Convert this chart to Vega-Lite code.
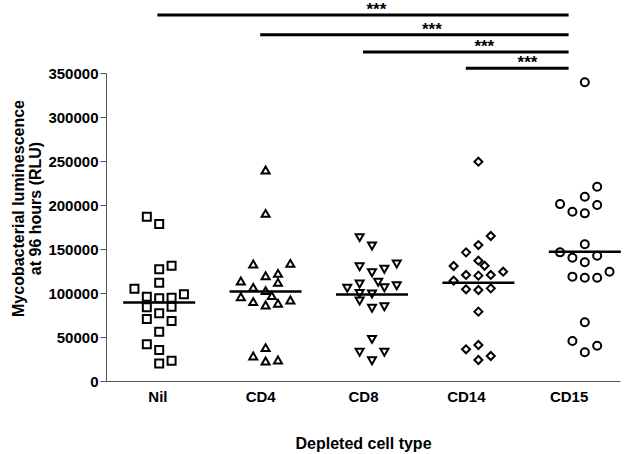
{
  "$schema": "https://vega.github.io/schema/vega-lite/v6.json",
  "width": 514,
  "height": 308,
  "autosize": {"type": "none"},
  "padding": {"left": 106, "top": 73, "right": 21, "bottom": 73},
  "background": "white",
  "config": {"view": {"stroke": null}, "font": "Liberation Sans"},
  "datasets": {
    "points": [
      {"group": "Nil", "col": -1, "value": 186700},
      {"group": "Nil", "col": 0, "value": 178400},
      {"group": "Nil", "col": 1, "value": 131000},
      {"group": "Nil", "col": 0, "value": 127000},
      {"group": "Nil", "col": 0, "value": 111700},
      {"group": "Nil", "col": -2, "value": 104900},
      {"group": "Nil", "col": 2, "value": 98500},
      {"group": "Nil", "col": -1, "value": 95800},
      {"group": "Nil", "col": 0, "value": 94000},
      {"group": "Nil", "col": 1, "value": 94700},
      {"group": "Nil", "col": -1, "value": 83700},
      {"group": "Nil", "col": 1, "value": 84400},
      {"group": "Nil", "col": 0, "value": 76900},
      {"group": "Nil", "col": -1, "value": 70500},
      {"group": "Nil", "col": 1, "value": 68200},
      {"group": "Nil", "col": 0, "value": 56000},
      {"group": "Nil", "col": -1, "value": 41700},
      {"group": "Nil", "col": 0, "value": 35200},
      {"group": "Nil", "col": 1, "value": 23000},
      {"group": "Nil", "col": 0, "value": 20000},
      {"group": "CD4", "col": 0, "value": 239800},
      {"group": "CD4", "col": 0, "value": 190500},
      {"group": "CD4", "col": -1, "value": 133000},
      {"group": "CD4", "col": 2, "value": 133700},
      {"group": "CD4", "col": 0, "value": 119700},
      {"group": "CD4", "col": 1, "value": 122300},
      {"group": "CD4", "col": 1, "value": 112100},
      {"group": "CD4", "col": -2, "value": 113600},
      {"group": "CD4", "col": -1, "value": 106400},
      {"group": "CD4", "col": 0, "value": 102700},
      {"group": "CD4", "col": -2, "value": 95800},
      {"group": "CD4", "col": 0.5, "value": 97000},
      {"group": "CD4", "col": -1, "value": 90200},
      {"group": "CD4", "col": 0, "value": 86400},
      {"group": "CD4", "col": 1, "value": 88300},
      {"group": "CD4", "col": 2, "value": 92000},
      {"group": "CD4", "col": 0, "value": 37900},
      {"group": "CD4", "col": -1, "value": 28400},
      {"group": "CD4", "col": 0, "value": 22700},
      {"group": "CD4", "col": 1, "value": 23900},
      {"group": "CD8", "col": -1, "value": 162900},
      {"group": "CD8", "col": 0, "value": 153400},
      {"group": "CD8", "col": -1, "value": 129900},
      {"group": "CD8", "col": 0, "value": 123100},
      {"group": "CD8", "col": 1, "value": 126900},
      {"group": "CD8", "col": 2, "value": 133000},
      {"group": "CD8", "col": -2, "value": 105300},
      {"group": "CD8", "col": -1, "value": 110200},
      {"group": "CD8", "col": 0.5, "value": 112200},
      {"group": "CD8", "col": 1, "value": 106000},
      {"group": "CD8", "col": 2, "value": 108300},
      {"group": "CD8", "col": -1, "value": 99600},
      {"group": "CD8", "col": 0, "value": 98900},
      {"group": "CD8", "col": -1, "value": 90900},
      {"group": "CD8", "col": 0, "value": 82600},
      {"group": "CD8", "col": 1, "value": 84400},
      {"group": "CD8", "col": 0, "value": 47300},
      {"group": "CD8", "col": -1, "value": 32600},
      {"group": "CD8", "col": 0, "value": 23100},
      {"group": "CD8", "col": 1, "value": 32600},
      {"group": "CD14", "col": 0, "value": 249200},
      {"group": "CD14", "col": 1, "value": 164800},
      {"group": "CD14", "col": 0, "value": 154500},
      {"group": "CD14", "col": -1, "value": 146200},
      {"group": "CD14", "col": 0, "value": 136700},
      {"group": "CD14", "col": 0.5, "value": 131000},
      {"group": "CD14", "col": -2, "value": 130700},
      {"group": "CD14", "col": -1, "value": 120500},
      {"group": "CD14", "col": 0, "value": 119700},
      {"group": "CD14", "col": 1, "value": 120500},
      {"group": "CD14", "col": 2, "value": 124200},
      {"group": "CD14", "col": -2, "value": 114000},
      {"group": "CD14", "col": -1, "value": 104200},
      {"group": "CD14", "col": 0, "value": 103400},
      {"group": "CD14", "col": 1, "value": 105300},
      {"group": "CD14", "col": 0, "value": 78800},
      {"group": "CD14", "col": -1, "value": 36000},
      {"group": "CD14", "col": 0, "value": 40900},
      {"group": "CD14", "col": 0, "value": 23900},
      {"group": "CD14", "col": 1, "value": 28400},
      {"group": "CD15", "col": 0, "value": 339400},
      {"group": "CD15", "col": 1, "value": 220800},
      {"group": "CD15", "col": 0, "value": 209400},
      {"group": "CD15", "col": 1, "value": 200000},
      {"group": "CD15", "col": -2, "value": 201000},
      {"group": "CD15", "col": -1, "value": 192400},
      {"group": "CD15", "col": 0, "value": 190500},
      {"group": "CD15", "col": 0, "value": 155300},
      {"group": "CD15", "col": -2, "value": 146200},
      {"group": "CD15", "col": -1, "value": 140100},
      {"group": "CD15", "col": 1, "value": 142400},
      {"group": "CD15", "col": 0, "value": 134900},
      {"group": "CD15", "col": -1, "value": 118600},
      {"group": "CD15", "col": 0, "value": 117400},
      {"group": "CD15", "col": 1, "value": 117400},
      {"group": "CD15", "col": 2, "value": 124200},
      {"group": "CD15", "col": 0, "value": 66700},
      {"group": "CD15", "col": -1, "value": 45500},
      {"group": "CD15", "col": 0, "value": 32600},
      {"group": "CD15", "col": 1, "value": 40100}
    ],
    "sig": [
      {"from": 1, "to": 5, "y": 416000, "label": "***", "tx": 3.13},
      {"from": 2, "to": 5, "y": 393500, "label": "***", "tx": 3.67},
      {"from": 3, "to": 5, "y": 374000, "label": "***", "tx": 4.18},
      {"from": 4, "to": 5, "y": 355500, "label": "***", "tx": 4.6}
    ]
  },
  "layer": [
    {
      "data": {"name": "points"},
      "mark": {"type": "point", "filled": false, "color": "black", "strokeWidth": 2, "size": 64, "opacity": 1},
      "encoding": {
        "x": {"field": "group", "type": "nominal", "sort": ["Nil", "CD4", "CD8", "CD14", "CD15"],
              "scale": {"type": "band", "range": [0, 532], "paddingInner": 0, "paddingOuter": 0}, "axis": null},
        "xOffset": {"field": "col", "type": "quantitative", "scale": {"domain": [-4.3, 4.3]}},
        "y": {"field": "value", "type": "quantitative", "scale": {"domain": [0, 350000], "nice": false},
              "axis": {"values": [0, 50000, 100000, 150000, 200000, 250000, 300000, 350000], "format": "d",
                       "title": ["Mycobacterial luminescence", "at 96 hours (RLU)"], "grid": false,
                       "tickSize": 6, "tickColor": "#555", "domainColor": "#555",
                       "labelFont": "Liberation Sans", "labelFontWeight": "bold", "labelFontSize": 15, "labelColor": "black", "labelPadding": 2,
                       "titleFont": "Liberation Sans", "titleFontSize": 16, "titleFontWeight": "bold", "titleColor": "black",
                       "titleX": -88, "titleY": 135, "titleAngle": -90, "titleBaseline": "middle", "titleAlign": "center", "titleLineHeight": 17}},
        "shape": {"field": "group", "type": "nominal",
                  "scale": {"domain": ["Nil", "CD4", "CD8", "CD14", "CD15"], "range": ["square", "triangle-up", "triangle-down", "diamond", "circle"]},
                  "legend": null}
      }
    },
    {
      "data": {"name": "points"},
      "mark": {"type": "tick", "color": "black", "thickness": 2.5, "size": 72},
      "encoding": {
        "x": {"field": "group", "type": "nominal", "sort": ["Nil", "CD4", "CD8", "CD14", "CD15"],
              "scale": {"type": "band", "range": [0, 532], "paddingInner": 0, "paddingOuter": 0}, "axis": null},
        "y": {"aggregate": "mean", "field": "value", "type": "quantitative", "scale": {"domain": [0, 350000], "nice": false}}
      }
    },
    {
      "data": {"name": "sig"},
      "mark": {"type": "rule", "color": "black", "strokeWidth": 3},
      "encoding": {
        "x": {"field": "from", "type": "quantitative", "scale": {"domain": [0.5, 5.5], "nice": false, "zero": false},
              "axis": {"values": [1, 2, 3, 4, 5],
                       "labelExpr": "datum.value == 1 ? 'Nil' : datum.value == 2 ? 'CD4' : datum.value == 3 ? 'CD8' : datum.value == 4 ? 'CD14' : 'CD15'",
                       "ticks": false, "grid": false, "domainColor": "#555",
                       "labelFont": "Liberation Sans", "labelFontWeight": "bold", "labelFontSize": 15, "labelColor": "black", "labelPadding": 8,
                       "title": "Depleted cell type", "titleFont": "Liberation Sans", "titleFontSize": 16, "titleFontWeight": "bold", "titleColor": "black",
                       "titleY": 62, "titleBaseline": "middle"}},
        "x2": {"field": "to"},
        "y": {"field": "y", "type": "quantitative", "scale": {"domain": [0, 350000], "nice": false}}
      }
    },
    {
      "data": {"name": "sig"},
      "mark": {"type": "text", "color": "black", "fontSize": 17, "fontWeight": "bold", "font": "Liberation Sans", "baseline": "middle", "dy": -5},
      "encoding": {
        "x": {"field": "tx", "type": "quantitative", "scale": {"domain": [0.5, 5.5], "nice": false, "zero": false}, "axis": null},
        "y": {"field": "y", "type": "quantitative", "scale": {"domain": [0, 350000], "nice": false}},
        "text": {"field": "label"}
      }
    }
  ],
  "resolve": {"scale": {"x": "independent"}}
}
